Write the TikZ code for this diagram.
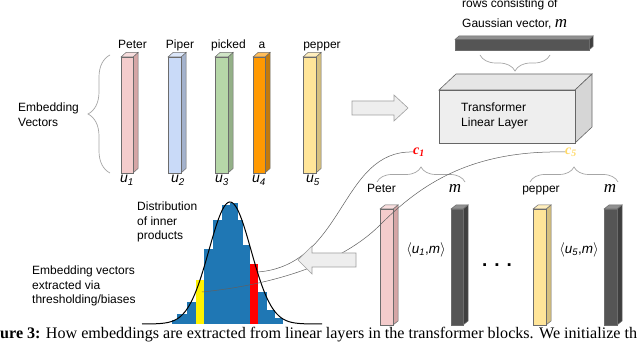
\documentclass[tikz,border=0pt]{standalone}
\usepackage{fontspec}
\setmainfont{Liberation Sans}
\newfontfamily\serifface{Liberation Serif}
\usetikzlibrary{decorations.pathreplacing}
\definecolor{pinkF}{HTML}{F4CCCC}
\definecolor{pinkS}{HTML}{D5A6A6}
\definecolor{blueF}{HTML}{C9DAF8}
\definecolor{blueS}{HTML}{A4B2CC}
\definecolor{greenF}{HTML}{B6D7A8}
\definecolor{greenS}{HTML}{94B088}
\definecolor{orangeF}{HTML}{FF9900}
\definecolor{orangeS}{HTML}{C47A0A}
\definecolor{yellowF}{HTML}{FFE599}
\definecolor{yellowS}{HTML}{D6C07F}
\definecolor{darkF}{HTML}{555555}
\definecolor{darkS}{HTML}{3F3F3F}
\definecolor{histblue}{HTML}{1F77B4}
\definecolor{boxfront}{HTML}{EEEEEE}
\definecolor{boxtop}{HTML}{E6E6E6}
\definecolor{boxside}{HTML}{D6D6D6}
\definecolor{cfive}{HTML}{FFD966}
\newcommand{\tdbar}[8]{%
  \filldraw[barline,fill=#8] (#3,#2) -- ++(#5,-#6) -- ++(0,#4-#2) -- (#3,#4) -- cycle;
  \filldraw[barline,fill=#7!65!white] (#1,#2) -- ++(#5,-#6) -- (#3+#5,#2-#6) -- (#3,#2) -- cycle;
  \filldraw[barline,fill=#7] (#1,#2) rectangle (#3,#4);
}
\begin{document}
\begin{tikzpicture}[x=1pt,y=-1pt,
  barline/.style={draw=gray!85!black,line width=0.5pt},
  lbl/.style={font=\fontsize{12}{14.5}\selectfont,inner sep=0,align=left},
  ulbl/.style={font=\fontsize{14}{16}\selectfont\itshape,inner sep=0},
  mlbl/.style={font=\serifface\fontsize{17}{18}\selectfont\itshape,inner sep=0},
  brc/.style={draw=gray!70,line width=0.7pt,decorate,decoration={brace,amplitude=#1}},
  brc/.default=15,
  curveline/.style={draw=gray!75!black,line width=0.5pt},
  blockarrow/.style={fill=boxfront,draw=gray!75,line width=0.6pt},
  boxline/.style={draw=gray!80!black,line width=0.6pt}]
\clip (0,0) rectangle (640,344);
\fill[white] (0,0) rectangle (640,344);

% ---- embedding vectors
\draw[brc=22] (110,173) -- (110,55);
\node[lbl,anchor=north west] (ev) at (18,103) {Embedding\\Vectors};
\tdbar{121}{57}{133}{173}{5}{4.5}{pinkF}{pinkS}
\tdbar{168}{57}{181}{173}{5}{4.5}{blueF}{blueS}
\tdbar{215}{57}{228}{173}{5}{4.5}{greenF}{greenS}
\tdbar{253}{57}{265}{173}{5}{4.5}{orangeF}{orangeS}
\tdbar{303}{57}{316}{173}{5}{4.5}{yellowF}{yellowS}
\node[lbl,anchor=base] (w1) at (132.5,49) {Peter};
\node[lbl,anchor=base] (w2) at (180,49) {Piper};
\node[lbl,anchor=base] (w3) at (228.5,49) {picked};
\node[lbl,anchor=base] (w4) at (262,49) {a};
\node[lbl,anchor=base] (w5) at (322,49) {pepper};
\node[ulbl,anchor=base west] (u1) at (120,183) {u\textsubscript{1}};
\node[ulbl,anchor=base west] (u2) at (171,183) {u\textsubscript{2}};
\node[ulbl,anchor=base west] (u3) at (215,183) {u\textsubscript{3}};
\node[ulbl,anchor=base west] (u4) at (252,183) {u\textsubscript{4}};
\node[ulbl,anchor=base west] (u5) at (306,183) {u\textsubscript{5}};

% ---- right arrow
\filldraw[blockarrow] (352,101) -- (394,101) -- (394,95) -- (408,108) -- (394,121) -- (394,115) -- (352,115) -- cycle;

% ---- gaussian row vector and transformer layer
\node[lbl,anchor=base west] (rows) at (462,8) {rows consisting of};
\node[lbl,anchor=base west] (gv) at (462,28) {Gaussian vector, {\serifface\fontsize{17}{18}\selectfont\itshape m}};
\tdbar{455}{39.5}{589}{50}{4}{3.5}{darkF}{darkS}
\draw[brc=16] (550,55) -- (480,55);
\filldraw[boxline,fill=boxtop] (439,90) -- (456,74) -- (592,74) -- (575,90) -- cycle;
\filldraw[boxline,fill=boxside] (575,90) -- (592,74) -- (592,127) -- (575,143) -- cycle;
\filldraw[boxline,fill=boxfront] (439,90) rectangle (575,143);
\node[lbl,anchor=north west] (tl) at (461,103) {Transformer\\Linear Layer};

% ---- c labels and braces
\node[font=\serifface\fontsize{14}{16}\selectfont\bfseries\itshape,text=red,inner sep=0] (c1) at (419,152) {c\textsubscript{1}};
\node[font=\serifface\fontsize{14}{16}\selectfont\bfseries\itshape,text=cfive,inner sep=0] (c5) at (571,152) {c\textsubscript{5}};
\draw[brc=15] (377,182) -- (465,182);
\draw[brc=15] (530,182) -- (618,182);

% ---- inner product bars
\tdbar{380}{209}{393}{325}{5}{4}{pinkF}{pinkS}
\tdbar{451}{209}{463}{325}{5}{4}{darkF}{darkS}
\tdbar{533}{209}{546}{325}{5}{4}{yellowF}{yellowS}
\tdbar{604}{209}{617}{325}{5}{4}{darkF}{darkS}
\node[lbl,anchor=base] (p1) at (381.5,193) {Peter};
\node[mlbl,anchor=base] (m1) at (455,193) {m};
\node[lbl,anchor=base] (p5) at (541,193) {pepper};
\node[mlbl,anchor=base] (m5) at (610,193) {m};
\node[font=\fontsize{13.5}{15}\selectfont,inner sep=0] (ip1) at (426,250) {$\langle$\textit{u}\textsubscript{\textit{1}},\textit{m}$\rangle$};
\node[font=\fontsize{13.5}{15}\selectfont,inner sep=0] (ip5) at (579,250) {$\langle$\textit{u}\textsubscript{\textit{5}},\textit{m}$\rangle$};
\node[font=\fontsize{19}{19}\selectfont\bfseries,inner sep=0] (dots) at (497,265) {. . .};

% ---- histogram
\foreach \a/\b/\t in {172/177/320,177/187/314,187/196/302,204/213/249,213/222/220,222/230/205,230/238/203,238/243/220,243/250/245,258/267/292,267/275/310,275/283/318}
  \fill[histblue] (\a,\t) rectangle (\b,324);
\fill[yellow] (196,280) rectangle (204,324);
\fill[red] (250,264) rectangle (258,324);
\draw[black,line width=1pt] plot[domain=142:322,samples=120] (\x,{324-122*exp(-((\x-230)*(\x-230))/882)});
\node[lbl,anchor=north west] (dist) at (137,202) {Distribution\\of inner\\products};
\node[lbl,anchor=north west] (ext) at (32,266) {Embedding vectors\\extracted via\\thresholding/biases};
\coordinate (redpt) at (258,272);
\coordinate (yelpt) at (202,292);

% ---- connectors
\draw[curveline] (c1.west) .. controls (340,150) and (345,265) .. (redpt);
\draw[curveline] (c5.west) .. controls (470,150) and (420,185) .. (380,225) .. controls (340,265) and (270,285) .. (yelpt);

% ---- left arrow
\filldraw[blockarrow] (356,253) -- (312,253) -- (312,246) -- (298,260) -- (312,274) -- (312,267) -- (356,267) -- cycle;

% ---- caption
\node[font=\serifface\fontsize{16.1}{17}\selectfont,inner sep=0,anchor=base west] (cap) at (0,339) {\textbf{ure 3:} How embeddings are extracted from linear layers in the transformer blocks. We initialize th};
\end{tikzpicture}
\end{document}
